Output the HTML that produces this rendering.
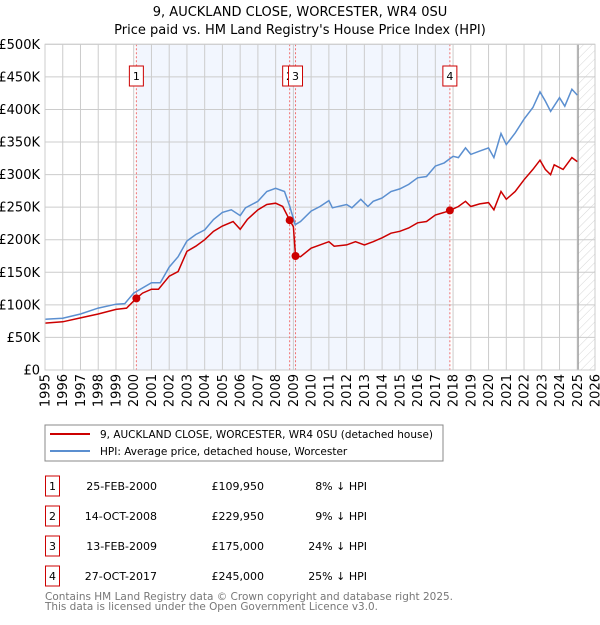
<!DOCTYPE html>
<html><head><meta charset="utf-8"><style>
body{margin:0;background:#fff;font-family:"Liberation Sans","DejaVu Sans",sans-serif;}
svg text{font-family:"DejaVu Sans","Liberation Sans",sans-serif;}
</style></head><body>
<svg id="c" width="600" height="620" xmlns="http://www.w3.org/2000/svg">
<defs><pattern id="hatch" width="6" height="6" patternUnits="userSpaceOnUse" patternTransform="rotate(45)"><line x1="0" y1="0" x2="0" y2="6" stroke="#ccc" stroke-width="0.8"/></pattern></defs>
<text x="300" y="16" text-anchor="middle" font-size="13" fill="#000">9, AUCKLAND CLOSE, WORCESTER, WR4 0SU</text>
<text x="300" y="34" text-anchor="middle" font-size="13" fill="#000">Price paid vs. HM Land Registry's House Price Index (HPI)</text>
<g id="plot"></g>
<g>
<rect x="45" y="425" width="398" height="36" fill="#fff" stroke="#888"/>
<line x1="50" y1="434" x2="90" y2="434" stroke="#cc0000" stroke-width="2"/>
<text x="100" y="438" font-size="10.5" textLength="333" lengthAdjust="spacingAndGlyphs">9, AUCKLAND CLOSE, WORCESTER, WR4 0SU (detached house)</text>
<line x1="50" y1="451" x2="90" y2="451" stroke="#5b8fd0" stroke-width="2"/>
<text x="100" y="455" font-size="10.5">HPI: Average price, detached house, Worcester</text>
</g>
<g id="table" font-size="11"></g>
<text x="45" y="600" font-size="11" fill="#777" textLength="408" lengthAdjust="spacingAndGlyphs">Contains HM Land Registry data © Crown copyright and database right 2025.</text>
<text x="45" y="610" font-size="11" fill="#777" textLength="333" lengthAdjust="spacingAndGlyphs">This data is licensed under the Open Government Licence v3.0.</text>
</svg>
<script>
const hpiYears=[1995,1996,1997,1998,1999,1999.5,2000,2001,2001.5,2002,2002.5,2003,2003.5,2004,2004.5,2005,2005.5,2006,2006.3,2007,2007.5,2008,2008.5,2008.8,2009.1,2009.4,2010,2010.5,2011,2011.2,2012,2012.3,2012.8,2013.2,2013.5,2014,2014.5,2015,2015.5,2016,2016.5,2017,2017.5,2018,2018.3,2018.7,2019,2019.5,2020,2020.3,2020.7,2021,2021.5,2022,2022.5,2022.9,2023.2,2023.5,2024,2024.3,2024.7,2025.0];
const hpiValues=[78,79.5,86,95,101,102,118,134,134,158,174,198,208,215,231,242,246,237,249,259,274,279,274,251,223,228,244,251,260,249,254,249,262,251,259,264,274,278,285,295,297,313,318,328,326,341,331,336,341,326,363,346,364,385,403,427,413,397,418,405,431,422];
const propYears=[1995,1996,1997,1998,1999,1999.6,2000.15,2000.5,2001,2001.4,2002,2002.5,2003,2003.5,2004,2004.5,2005,2005.6,2006,2006.4,2007,2007.5,2008,2008.4,2008.79,2009.0,2009.12,2009.4,2010,2010.5,2011,2011.3,2012,2012.5,2013,2013.5,2014,2014.5,2015,2015.5,2016,2016.5,2017,2017.5,2017.82,2018.3,2018.7,2019,2019.5,2020,2020.3,2020.7,2021,2021.5,2022,2022.5,2022.9,2023.2,2023.5,2023.7,2024.2,2024.7,2025.0];
const propValues=[72,74,80,86,93,95,110,118,124,124,144,151,182,190,200,213,221,228,216,231,246,254,256,251,230,220,175,174,187,192,197,190,192,197,192,197,203,210,213,218,226,228,238,242,245,251,259,251,255,257,246,274,262,274,292,308,322,308,300,315,308,326,320];
const saleLabels=["1","2","3","4"];
const saleYears=[2000.15,2008.79,2009.12,2017.82];
const salePrices=[109.95,229.95,175,245];
const saleDates=["25-FEB-2000","14-OCT-2008","13-FEB-2009","27-OCT-2017"];
const salePriceText=["£109,950","£229,950","£175,000","£245,000"];
const saleDiffText=["8% ↓ HPI","9% ↓ HPI","24% ↓ HPI","25% ↓ HPI"];
const yTicks=[0,50,100,150,200,250,300,350,400,450,500];
const yTickLabels=["£0","£50K","£100K","£150K","£200K","£250K","£300K","£350K","£400K","£450K","£500K"];
const xStart=1995,xEnd=2026,dataEnd=2025.05;

const L=45,R=595,T=44.3,B=370;
const xs=y=>L+(y-xStart)/(xEnd-xStart)*(R-L);
const ys=v=>B-v/500*(B-T);
const NS="http://www.w3.org/2000/svg";
const plot=document.getElementById('plot');
function mk(tag,attrs,parent){const e=document.createElementNS(NS,tag);for(const k in attrs)e.setAttribute(k,attrs[k]);(parent||plot).appendChild(e);return e;}

let e;
e=mk('rect',{x:L,y:T,width:R-L,height:B-T,fill:'#fff'});


e=mk('rect',{x:xs(saleYears[0]),y:T,width:xs(saleYears[3])-xs(saleYears[0]),height:B-T,fill:'#f2f6fe'});


for(let i=0;i<yTicks.length;i++){
  e=mk('line',{x1:L,x2:R,y1:ys(yTicks[i]),y2:ys(yTicks[i]),stroke:'#ccc','stroke-width':1});
  
  
  e=mk('text',{x:40,y:ys(yTicks[i])+4.5,'text-anchor':'end','font-size':13,fill:'#000'});
  e.textContent=yTickLabels[i];
  
  
}
for(let yr=xStart;yr<=xEnd;yr++){
  e=mk('line',{x1:xs(yr),x2:xs(yr),y1:T,y2:B,stroke:'#ccc','stroke-width':1});
  
  
  const tx=xs(yr)+4.5;
  e=mk('text',{x:tx,y:374,'text-anchor':'end','font-size':13,transform:`rotate(-90 ${tx} 374)`});
  e.textContent=String(yr);
  
  
}
e=mk('rect',{x:xs(dataEnd),y:T,width:R-xs(dataEnd),height:B-T,fill:'url(#hatch)'});


e=mk('line',{x1:xs(dataEnd),x2:xs(dataEnd),y1:T,y2:B,stroke:'#999','stroke-width':1.2});


for(let i=0;i<saleYears.length;i++){
  e=mk('line',{x1:xs(saleYears[i]),x2:xs(saleYears[i]),y1:T,y2:B,stroke:'#f07070','stroke-width':1,'stroke-dasharray':'2,2'});
  
  
}
function path(xa,va){return xa.map((x,i)=>(i?'L':'M')+xs(x).toFixed(1)+','+ys(va[i]).toFixed(1)).join('');}
e=mk('path',{d:path(hpiYears,hpiValues),fill:'none',stroke:'#5b8fd0','stroke-width':1.5});


e=mk('path',{d:path(propYears,propValues),fill:'none',stroke:'#cc0000','stroke-width':1.5});


for(let i=0;i<saleYears.length;i++){
  e=mk('circle',{cx:xs(saleYears[i]),cy:ys(salePrices[i]),r:4,fill:'#cc0000'});
  
  
}
for(let i=0;i<saleYears.length;i++){
  const cx=xs(saleYears[i]);
  e=mk('rect',{x:cx-7,y:66,width:14,height:20,fill:'#fff',stroke:'#cc0000','stroke-width':1});
  
  
  e=mk('text',{x:cx,y:80,'text-anchor':'middle','font-size':11});
  e.textContent=saleLabels[i];
  
  
}
e=mk('rect',{x:L,y:T,width:R-L,height:B-T,fill:'none',stroke:'#ccc'});



const tbl=document.getElementById('table');
for(let i=0;i<saleLabels.length;i++){
  const y0=476+i*30;
  e=mk('rect',{x:45.5,y:y0,width:14,height:20,fill:'#fff',stroke:'#cc0000'},tbl);
  
  
  e=mk('text',{x:52.5,y:y0+14,'text-anchor':'middle'},tbl);
  e.textContent=saleLabels[i];
  
  
  e=mk('text',{x:157,y:y0+14,'text-anchor':'end'},tbl);
  e.textContent=saleDates[i];
  
  
  e=mk('text',{x:264,y:y0+14,'text-anchor':'end'},tbl);
  e.textContent=salePriceText[i];
  
  
  e=mk('text',{x:367,y:y0+14,'text-anchor':'end'},tbl);
  e.textContent=saleDiffText[i];
  
  
}
</script>
</body></html>
